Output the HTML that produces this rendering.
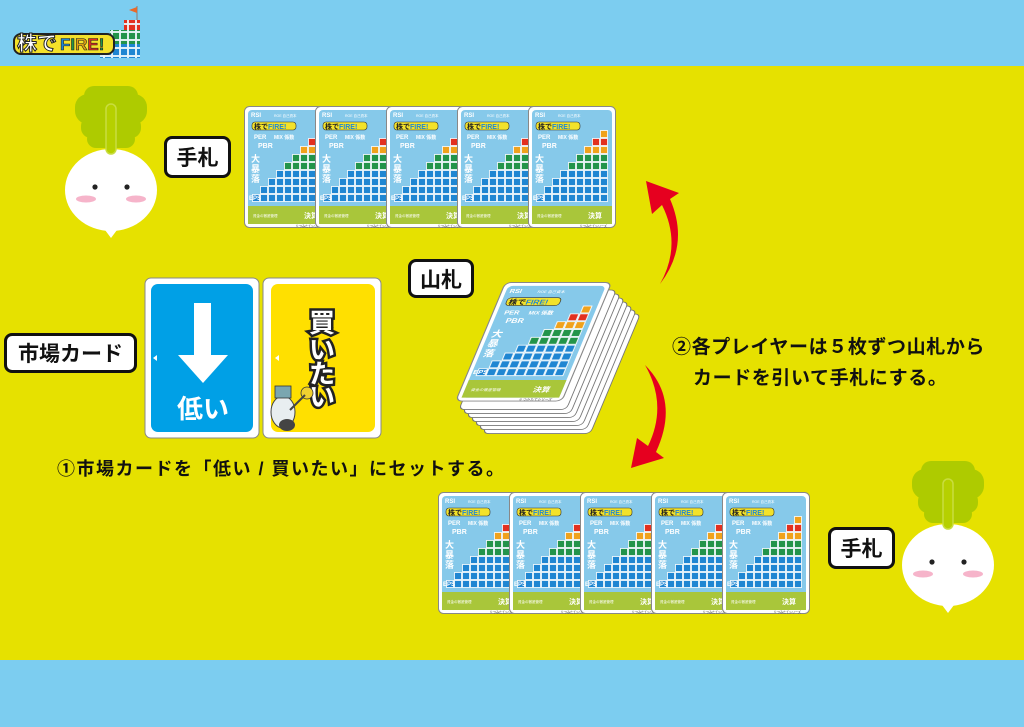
<!DOCTYPE html>
<html><head><meta charset="utf-8">
<style>
html,body{margin:0;padding:0}
body{width:1024px;height:727px;overflow:hidden;background:#e6e100;position:relative;font-family:"Liberation Sans","Noto Sans CJK JP",sans-serif}
.t{position:absolute;font-weight:bold;color:#111;white-space:nowrap}
.lbl{position:absolute;background:#fff;border:3px solid #111;border-radius:8px;font-weight:bold;font-size:21px;display:flex;align-items:center;justify-content:center;box-sizing:border-box;color:#111}
</style></head><body>
<svg width="1024" height="727" style="position:absolute;left:0;top:0" xmlns="http://www.w3.org/2000/svg" xmlns:xlink="http://www.w3.org/1999/xlink">
<defs>
<pattern id="pb" width="8" height="8" patternUnits="userSpaceOnUse"><rect x="0.5" y="0.5" width="7" height="7" fill="#1f86d2" stroke="#fff" stroke-width="0.8"/></pattern>
<pattern id="pg" width="8" height="8" patternUnits="userSpaceOnUse"><rect x="0.5" y="0.5" width="7" height="7" fill="#23944a" stroke="#fff" stroke-width="0.8"/></pattern>
<pattern id="po" width="8" height="8" patternUnits="userSpaceOnUse"><rect x="0.5" y="0.5" width="7" height="7" fill="#f0a21c" stroke="#fff" stroke-width="0.8"/></pattern>
<pattern id="pr" width="8" height="8" patternUnits="userSpaceOnUse"><rect x="0.5" y="0.5" width="7" height="7" fill="#e2301f" stroke="#fff" stroke-width="0.8"/></pattern>
<symbol id="card" overflow="visible">
<rect x="0.5" y="0.5" width="87" height="121" rx="5" fill="#fff" stroke="#888" stroke-width="1"/>
<rect x="4" y="4" width="80" height="114" rx="4" fill="#86c9ea"/>
<rect x="4" y="100" width="80" height="18" fill="#a9c63a"/>
<rect x="8" y="88" width="72" height="8" fill="url(#pb)"/>
<rect x="16" y="80" width="64" height="8" fill="url(#pb)"/>
<rect x="24" y="72" width="56" height="8" fill="url(#pb)"/>
<rect x="32" y="64" width="48" height="8" fill="url(#pb)"/>
<rect x="40" y="56" width="40" height="8" fill="url(#pg)"/>
<rect x="48" y="48" width="32" height="8" fill="url(#pg)"/>
<rect x="56" y="40" width="24" height="8" fill="url(#po)"/>
<rect x="64" y="32" width="16" height="8" fill="url(#pr)"/>
<rect x="72" y="24" width="8" height="8" fill="url(#po)"/>
<rect x="8" y="16" width="44" height="8" rx="3" fill="#f3e22a" stroke="#333" stroke-width="0.6"/>
<text x="10" y="23" font-size="7" font-weight="bold" fill="#222">株で<tspan fill="#1f86d2">FIRE!</tspan></text>
<text x="7" y="11" font-size="6" fill="#fff" font-weight="bold">RSI</text>
<text x="30" y="11" font-size="3.5" fill="#fff">ROE 自己資本</text>
<text x="10" y="33" font-size="6" fill="#fff" font-weight="bold">PER</text>
<text x="30" y="33" font-size="5" fill="#fff" font-weight="bold">MIX 係数</text>
<text x="14" y="42" font-size="7" fill="#fff" font-weight="bold">PBR</text>
<text x="7" y="56" font-size="9" fill="#fff" font-weight="bold">大</text>
<text x="7" y="66" font-size="9" fill="#fff" font-weight="bold">暴</text>
<text x="7" y="76" font-size="9" fill="#fff" font-weight="bold">落</text>
<text x="5" y="94" font-size="6" fill="#fff" font-weight="bold">EPS</text>
<text x="9" y="111" font-size="3.5" fill="#fff">資金の徹底管理</text>
<text x="60" y="112" font-size="7" fill="#fff" font-weight="bold">決算</text>
<text x="52" y="121" font-size="3" fill="#333">© つみたてシリーズ</text>
</symbol>
<symbol id="turnip" overflow="visible">
<g fill="#aecb00">
<rect x="-36" y="-96" width="72" height="30" rx="13"/>
<rect x="-27" y="-104" width="54" height="20" rx="10"/>
<rect x="-30" y="-74" width="60" height="22" rx="10"/>
<rect x="-24" y="-60" width="48" height="18" rx="9"/>
</g>
<ellipse cx="0" cy="0" rx="46" ry="41" fill="#fff"/>
<polygon points="-9,36 9,36 0,48" fill="#fff"/>
<rect x="-5" y="-86" width="10" height="50" rx="5" fill="#b6d000" stroke="#c9dd40" stroke-width="1.5"/>
<circle cx="-16" cy="-3" r="2.6" fill="#222"/><circle cx="16" cy="-3" r="2.6" fill="#222"/>
<ellipse cx="-25" cy="9" rx="10" ry="3.5" fill="#f6b4ca"/><ellipse cx="25" cy="9" rx="10" ry="3.5" fill="#f6b4ca"/>
</symbol>
</defs>
<rect x="0" y="0" width="1024" height="66" fill="#7ccdf0"/>
<rect x="0" y="660" width="1024" height="67" fill="#7ccdf0"/>
<!-- logo -->
<g>
<rect x="100" y="44" width="40" height="14" fill="url(#pb)"/>
<rect x="110" y="30" width="30" height="14" fill="url(#pg)"/>
<rect x="124" y="20" width="16" height="10" fill="url(#pr)"/>
<line x1="137" y1="6" x2="137" y2="20" stroke="#888" stroke-width="1.2"/>
<polygon points="137,7 129,10 137,13" fill="#e96a2a"/>
<rect x="14" y="34" width="100" height="20" rx="7" fill="#f4e12a" stroke="#222" stroke-width="2"/>
<text x="17" y="50" font-size="20" font-weight="bold" fill="#fff" stroke="#222" stroke-width="1">株で</text>
<text x="60" y="50" font-size="17" font-weight="bold" fill="#1f86d2" stroke="#222" stroke-width="0.6">F<tspan fill="#23944a">I</tspan><tspan fill="#e0a010">R</tspan><tspan fill="#e2301f">E</tspan><tspan fill="#23944a">!</tspan></text>
</g>
<!-- turnips -->
<use xlink:href="#turnip" x="111" y="190"/>
<use xlink:href="#turnip" x="948" y="565"/>
<!-- top hand -->
<use xlink:href="#card" x="244" y="106"/>
<use xlink:href="#card" x="315" y="106"/>
<use xlink:href="#card" x="386" y="106"/>
<use xlink:href="#card" x="457" y="106"/>
<use xlink:href="#card" x="528" y="106"/>
<!-- bottom hand -->
<use xlink:href="#card" x="438" y="492"/>
<use xlink:href="#card" x="509" y="492"/>
<use xlink:href="#card" x="580" y="492"/>
<use xlink:href="#card" x="651" y="492"/>
<use xlink:href="#card" x="722" y="492"/>
<!-- deck -->
<g fill="#fff" stroke="#777" stroke-width="0.8">
<path d="M0,5 Q0,0 5,0 H83 Q88,0 88,5 V117 Q88,122 83,122 H5 Q0,122 0,117 Z" transform="matrix(1.22 0 -0.41 0.98 533 314)"/>
<path d="M0,5 Q0,0 5,0 H83 Q88,0 88,5 V117 Q88,122 83,122 H5 Q0,122 0,117 Z" transform="matrix(1.22 0 -0.41 0.98 529 310)"/>
<path d="M0,5 Q0,0 5,0 H83 Q88,0 88,5 V117 Q88,122 83,122 H5 Q0,122 0,117 Z" transform="matrix(1.22 0 -0.41 0.98 525 306)"/>
<path d="M0,5 Q0,0 5,0 H83 Q88,0 88,5 V117 Q88,122 83,122 H5 Q0,122 0,117 Z" transform="matrix(1.22 0 -0.41 0.98 521 302)"/>
<path d="M0,5 Q0,0 5,0 H83 Q88,0 88,5 V117 Q88,122 83,122 H5 Q0,122 0,117 Z" transform="matrix(1.22 0 -0.41 0.98 517 298)"/>
<path d="M0,5 Q0,0 5,0 H83 Q88,0 88,5 V117 Q88,122 83,122 H5 Q0,122 0,117 Z" transform="matrix(1.22 0 -0.41 0.98 513 294)"/>
<path d="M0,5 Q0,0 5,0 H83 Q88,0 88,5 V117 Q88,122 83,122 H5 Q0,122 0,117 Z" transform="matrix(1.22 0 -0.41 0.98 509 290)"/>
</g>
<use xlink:href="#card" transform="matrix(1.22 0 -0.41 0.98 505 282)"/>
<!-- market cards -->
<rect x="145" y="278" width="114" height="160" rx="6" fill="#fff" stroke="#888"/>
<rect x="151" y="284" width="102" height="148" rx="7" fill="#00a0e6"/>
<rect x="194" y="303" width="17" height="52" fill="#fff"/>
<polygon points="178,355 228,355 203,383" fill="#fff"/>
<polygon points="157,355 157,361 153,358" fill="#fff"/>
<text x="203" y="418" font-size="26" font-weight="bold" fill="#fff" text-anchor="middle">低い</text>
<rect x="263" y="278" width="118" height="160" rx="6" fill="#fff" stroke="#888"/>
<rect x="271" y="284" width="104" height="148" rx="7" fill="#ffe000"/>
<polygon points="279,355 279,361 275,358" fill="#fff"/>
<g font-size="26" font-weight="bold" fill="#fff" stroke="#222" stroke-width="5" paint-order="stroke" text-anchor="middle">
<text x="322" y="332">買</text><text x="322" y="359">い</text><text x="322" y="383">た</text><text x="322" y="406">い</text>
</g>
<g>
<ellipse cx="283" cy="412" rx="12" ry="16" fill="#e8eef0" stroke="#444" stroke-width="1"/>
<rect x="275" y="386" width="16" height="12" fill="#7aa6b0" stroke="#333" stroke-width="0.8"/>
<circle cx="307" cy="393" r="6" fill="#f0d030" stroke="#333" stroke-width="0.8"/>
<line x1="290" y1="410" x2="305" y2="395" stroke="#444" stroke-width="2"/>
<ellipse cx="287" cy="425" rx="8" ry="6" fill="#444"/>
</g>
<!-- arrows -->
<path d="M660,284 Q682,245 662,205 L652,214 L646,181 L679,193 L670,199 Q690,245 660,284 Z" fill="#e6001f"/>
<path d="M645,365 Q668,405 648,446 L637,438 L631,468 L664,458 L656,452 Q680,400 645,365 Z" fill="#e6001f"/>
</svg>
<div class="lbl" style="left:164px;top:136px;width:67px;height:42px">手札</div>
<div class="lbl" style="left:408px;top:259px;width:66px;height:39px">山札</div>
<div class="lbl" style="left:4px;top:333px;width:133px;height:40px">市場カード</div>
<div class="lbl" style="left:828px;top:527px;width:67px;height:42px">手札</div>
<div class="t" style="left:672px;top:332px;font-size:19px;letter-spacing:0.6px">②各プレイヤーは５枚ずつ山札から</div>
<div class="t" style="left:693px;top:363px;font-size:19px;letter-spacing:0.6px">カードを引いて手札にする。</div>
<div class="t" style="left:57px;top:455px;font-size:18px;letter-spacing:1.5px">①市場カードを「低い / 買いたい」にセットする。</div>
</body></html>
